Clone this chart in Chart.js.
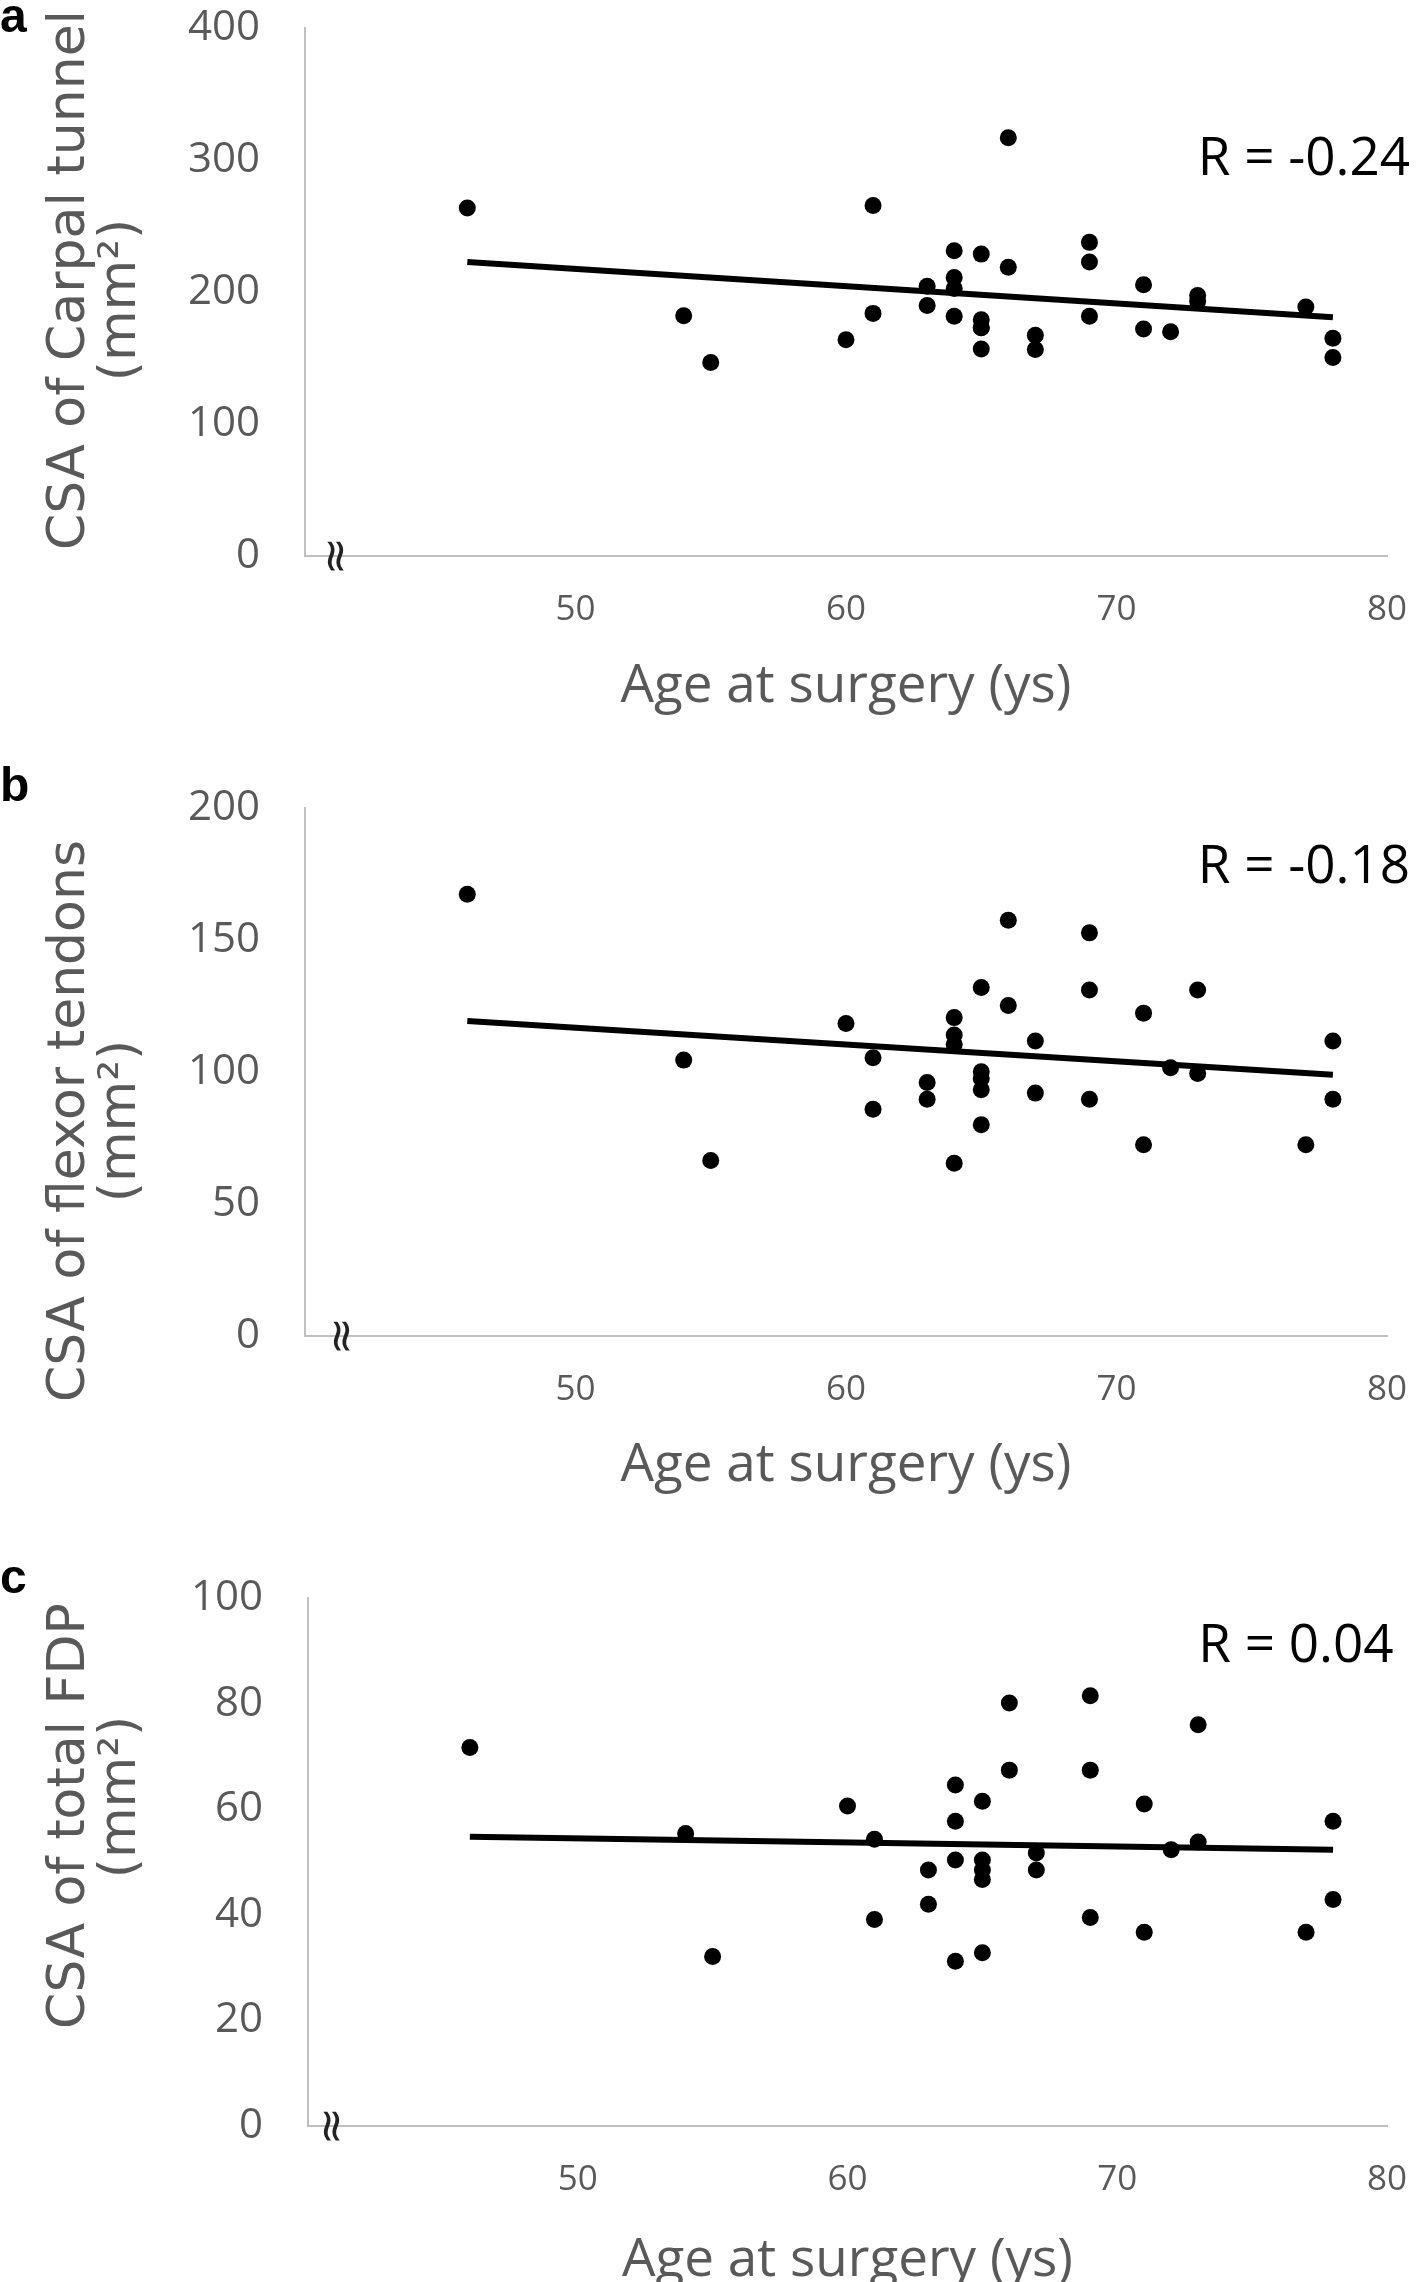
<!DOCTYPE html>
<html>
<head>
<meta charset="utf-8">
<title>CSA vs age at surgery</title>
<script src="https://cdn.jsdelivr.net/npm/chart.js@4.4.2/dist/chart.umd.min.js"></script>
<style>
  html, body { margin: 0; padding: 0; background: #fff; }
  body { width: 1418px; height: 2282px; position: relative; overflow: hidden; }
  .panel { position: absolute; left: 0; width: 1418px; }
  .panel canvas { display: block; }
</style>
</head>
<body>
<div class="panel" style="top:0px"><canvas id="chartA" width="1418" height="760"></canvas></div>
<div class="panel" style="top:760px"><canvas id="chartB" width="1418" height="760"></canvas></div>
<div class="panel" style="top:1550px"><canvas id="chartC" width="1418" height="732"></canvas></div>
<script>
// ages (years) shared by all three panels
const ages = [46, 54, 55, 60, 61, 61, 63, 63, 64, 64, 64, 64, 65, 65, 65, 65, 65,
  66, 66, 67, 67, 69, 69, 69, 71, 71, 72, 73, 73, 77, 78, 78];

// a: CSA of carpal tunnel (mm2)
const carpal = [263.7, 182, 146.6, 163.9, 265.6, 183.8, 204.4, 189.7, 231.3, 211, 202.6, 181.6,
  228.7, 179, 173, 156.9, 173, 316.8, 218.8, 167.2, 156.5, 237.6, 222.8, 181.6,
  205.5, 172, 169.8, 197.4, 193, 188.6, 165, 150.3];
// b: CSA of flexor tendons (mm2)
const flexor = [167.3, 104.5, 66.5, 118.4, 105.4, 85.9, 96, 89.7, 120.6, 114, 110.4, 65.4,
  132, 100.1, 97.5, 93.3, 80, 157.5, 125.2, 111.7, 92, 152.7, 131.1, 89.7,
  122.3, 72.4, 101.6, 131.1, 99.4, 72.4, 111.7, 89.7];
// c: CSA of total FDP (mm2)
const fdp = [71.7, 55.4, 32.1, 60.6, 54.3, 39.1, 48.5, 42, 64.6, 57.7, 50.4, 31.2,
  61.5, 50.4, 48.5, 46.7, 32.8, 80.1, 67.4, 51.7, 48.5, 81.5, 67.4, 39.5,
  61, 36.7, 52.3, 76, 53.8, 36.7, 57.7, 42.9];

// linear trend lines, read at both ends
const trendAges = [46, 78];
const carpalTrend = [222.8, 180.8];
const flexorTrend = [119.3, 99];
const fdpTrend = [54.8, 52.3];

const ageTicks = [50, 60, 70, 80];
const rLabels = ['R = -0.24', 'R = -0.18', 'R = 0.04'];

const GREY = '#595959';
const AXIS = '#bfbfbf';

const panelDecor = {
  id: 'panelDecor',
  afterDraw(chart, args, opts) {
    const { ctx, scales: { x, y } } = chart;
    ctx.save();

    // panel letter
    ctx.fillStyle = '#000';
    ctx.font = 'bold 48px "Liberation Sans", Arial, sans-serif';
    ctx.textAlign = 'left';
    ctx.textBaseline = 'alphabetic';
    ctx.fillText(opts.letter, 0, opts.letterY);

    // axis break mark next to the origin
    ctx.save();
    ctx.translate(x.left + opts.breakDx, y.bottom);
    ctx.rotate(Math.PI / 2);
    ctx.font = '46px "DejaVu Sans", sans-serif';
    ctx.textAlign = 'center';
    ctx.textBaseline = 'middle';
    ctx.fillStyle = '#222';
    ctx.fillText('\u2248', 0, 0);
    ctx.restore();

    // y axis title, two rotated lines
    ctx.fillStyle = GREY;
    ctx.font = '52px "DejaVu Sans", sans-serif';
    ctx.textAlign = 'center';
    ctx.textBaseline = 'middle';
    opts.yTitle.forEach((line, i) => {
      ctx.save();
      ctx.translate(opts.yTitleX[i], opts.yTitleY[i]);
      ctx.rotate(-Math.PI / 2);
      ctx.fillText(line, 0, 0);
      ctx.restore();
    });

    // correlation label
    ctx.fillStyle = '#000';
    ctx.font = '53px "Open Sans", sans-serif';
    ctx.textAlign = 'left';
    ctx.fillText(opts.rText, x.getPixelForValue(opts.rAt[0]), y.getPixelForValue(opts.rAt[1]));

    ctx.restore();
  }
};

const makePanel = (id, values, trend, p) => {
  return new Chart(document.getElementById(id), {
    type: 'scatter',
    data: {
      datasets: [{
        type: 'line',
        data: trendAges.map((a, i) => ({ x: a, y: trend[i] })),
        borderColor: '#000',
        borderWidth: 6,
        pointRadius: 0,
        fill: false
      }, {
        data: ages.map((a, i) => ({ x: a, y: values[i] })),
        backgroundColor: '#000',
        borderWidth: 0,
        pointRadius: 8.5,
        pointHoverRadius: 8.5
      }]
    },
    options: {
      responsive: false,
      animation: false,
      events: [],
      layout: {
        autoPadding: false,
        padding: { top: p.top, right: 31, bottom: 0, left: 0 }
      },
      plugins: {
        legend: { display: false },
        tooltip: { enabled: false },
        panelDecor: p.decor
      },
      scales: {
        x: {
          type: 'linear',
          min: 40,
          max: 80,
          afterBuildTicks: scale => {
            scale.ticks = [40].concat(ageTicks).map(v => ({ value: v }));
          },
          afterFit: scale => {
            scale.height = p.xHeight;
            scale.paddingLeft = 0;
            scale.paddingRight = 0;
          },
          grid: { display: false, drawTicks: false },
          border: { display: true, color: AXIS, width: 2 },
          ticks: {
            callback: v => (ageTicks.includes(v) ? v : ''),
            padding: 33,
            maxRotation: 0,
            autoSkip: false,
            color: GREY,
            font: { family: 'Open Sans', size: 35 }
          },
          title: {
            display: true,
            text: 'Age at surgery (ys)',
            color: GREY,
            font: { family: 'Open Sans', size: 53, lineHeight: 0.8 },
            padding: { top: 0, bottom: p.xTitlePad }
          }
        },
        y: {
          min: 0,
          max: p.yMax,
          afterFit: scale => {
            scale.width = p.yWidth;
            scale.paddingTop = 0;
            scale.paddingBottom = 0;
          },
          grid: { display: false, drawTicks: false },
          border: { display: true, color: AXIS, width: 2 },
          ticks: {
            stepSize: p.yStep,
            padding: 45,
            color: GREY,
            font: { family: 'Open Sans', size: 42 }
          }
        }
      }
    },
    plugins: [panelDecor]
  });
};

makePanel('chartA', carpal, carpalTrend, {
  top: 28, yMax: 400, yStep: 100, yWidth: 305, xHeight: 204, xTitlePad: 52,
  decor: {
    letter: 'a', letterY: 32, breakDx: 28,
    yTitle: ['CSA of Carpal tunnel', '(mm\u00b2)'], yTitleX: [70, 121], yTitleY: [280, 300],
    rText: rLabels[0], rAt: [73, 300]
  }
});

makePanel('chartB', flexor, flexorTrend, {
  top: 48, yMax: 200, yStep: 50, yWidth: 305, xHeight: 184, xTitlePad: 33,
  decor: {
    letter: 'b', letterY: 41, breakDx: 34,
    yTitle: ['CSA of flexor tendons', '(mm\u00b2)'], yTitleX: [70, 121], yTitleY: [361, 361],
    rText: rLabels[1], rAt: [73, 177.3]
  }
});

makePanel('chartC', fdp, fdpTrend, {
  top: 48, yMax: 100, yStep: 20, yWidth: 308, xHeight: 156, xTitlePad: 0,
  decor: {
    letter: 'c', letterY: 43, breakDx: 21,
    yTitle: ['CSA of total FDP', '(mm\u00b2)'], yTitleX: [70, 121], yTitleY: [266, 247],
    rText: rLabels[2], rAt: [73, 90.7]
  }
});
</script>
</body>
</html>
